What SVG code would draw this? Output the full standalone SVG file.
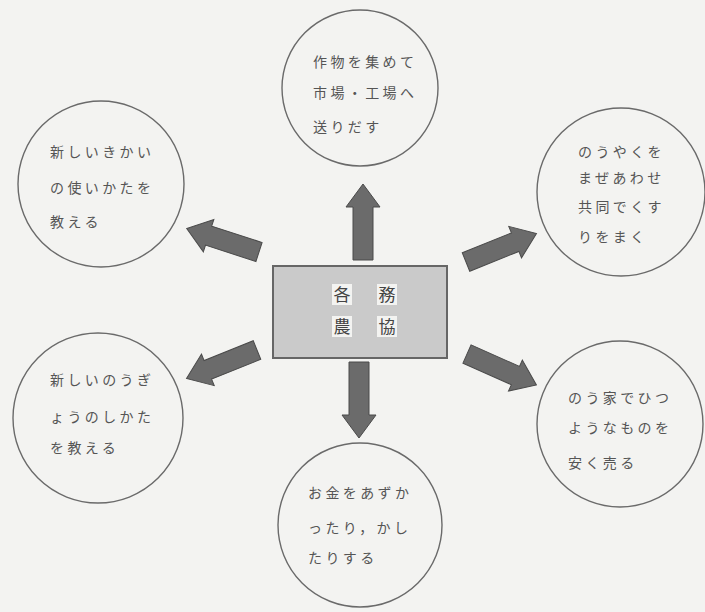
<svg xmlns="http://www.w3.org/2000/svg" xmlns:xlink="http://www.w3.org/1999/xlink" width="705" height="612" viewBox="0 0 705 612">
<style>
.c{fill:none;stroke:#6a6a6a;stroke-width:1.4}
.t{font-family:"Noto Sans CJK JP","Noto Sans CJK SC",sans-serif;font-size:14px;letter-spacing:3.4px;fill:#555}
.k{font-family:"Noto Sans CJK JP","Noto Sans CJK SC",sans-serif;font-size:17px;fill:#444;text-anchor:middle}
.a{fill:#6b6b6b;stroke:#4a4a4a;stroke-width:1}
</style>
<defs>
<path id="arr" d="M0,-10 L53,-10 L53,-17 L76,0 L53,17 L53,10 L0,10 Z"/>
</defs>
<rect width="705" height="612" fill="#f3f3f1"/>
<g id="center">
<rect x="273" y="266" width="174" height="92" fill="#cacaca" stroke="#666" stroke-width="2"/>
<rect x="332" y="284" width="20" height="21" fill="#f3f3f1"/>
<rect x="377" y="284" width="20" height="21" fill="#f3f3f1"/>
<rect x="332" y="316" width="20" height="21" fill="#f3f3f1"/>
<rect x="377" y="316" width="20" height="21" fill="#f3f3f1"/>
<text class="k" x="342" y="301">各</text>
<text class="k" x="387" y="301">務</text>
<text class="k" x="342" y="333">農</text>
<text class="k" x="387" y="333">協</text>
</g>
<g id="top">
<circle class="c" cx="360" cy="88" r="78"/>
<text class="t" x="313" y="67">作物を集めて</text>
<text class="t" x="313" y="98">市場・工場へ</text>
<text class="t" x="313" y="132">送りだす</text>
</g>
<g id="upperleft">
<circle class="c" cx="101" cy="184" r="83"/>
<text class="t" x="50" y="157">新しいきかい</text>
<text class="t" x="50" y="193">の使いかたを</text>
<text class="t" x="50" y="227">教える</text>
</g>
<g id="upperright">
<circle class="c" cx="621" cy="192" r="84"/>
<text class="t" x="578" y="157">のうやくを</text>
<text class="t" x="578" y="183">まぜあわせ</text>
<text class="t" x="578" y="212">共同でくす</text>
<text class="t" x="578" y="242">りをまく</text>
</g>
<g id="lowerleft">
<circle class="c" cx="98" cy="418" r="85"/>
<text class="t" x="50" y="385">新しいのうぎ</text>
<text class="t" x="50" y="422">ょうのしかた</text>
<text class="t" x="50" y="453">を教える</text>
</g>
<g id="lowerright">
<circle class="c" cx="620" cy="424" r="83"/>
<text class="t" x="568" y="403">のう家でひつ</text>
<text class="t" x="568" y="433">ようなものを</text>
<text class="t" x="568" y="468">安く売る</text>
</g>
<g id="bottom">
<circle class="c" cx="360" cy="525" r="82"/>
<text class="t" x="308" y="498">お金をあずか</text>
<text class="t" x="308" y="533">ったり，かし</text>
<text class="t" x="308" y="563">たりする</text>
</g>
<g id="connectors">
<use class="a" xlink:href="#arr" href="#arr" transform="translate(363,260) rotate(-90)"/>
<use class="a" xlink:href="#arr" href="#arr" transform="translate(359,362) rotate(90)"/>
<use class="a" xlink:href="#arr" href="#arr" transform="translate(259,252) rotate(-162)"/>
<use class="a" xlink:href="#arr" href="#arr" transform="translate(466,262) rotate(-22)"/>
<use class="a" xlink:href="#arr" href="#arr" transform="translate(257,350) rotate(158)"/>
<use class="a" xlink:href="#arr" href="#arr" transform="translate(467,354) rotate(24)"/>
</g>
</svg>
